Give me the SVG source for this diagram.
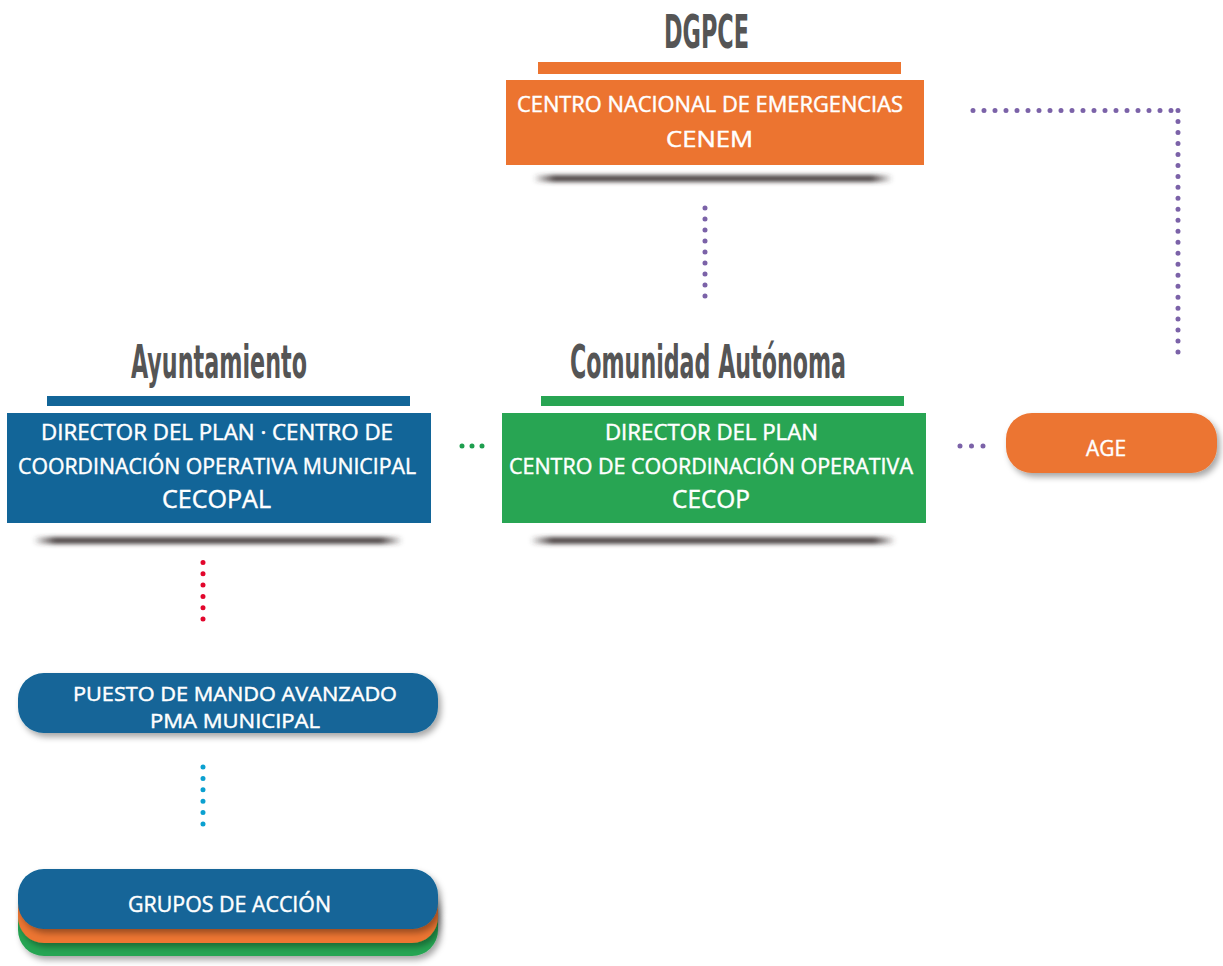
<svg xmlns="http://www.w3.org/2000/svg" width="1223" height="966" viewBox="0 0 1223 966">
<defs>
<filter id="blur" x="-10%" y="-200%" width="120%" height="500%"><feGaussianBlur stdDeviation="2"/></filter>
<filter id="drop" x="-10%" y="-30%" width="125%" height="180%"><feDropShadow dx="3" dy="4" stdDeviation="3" flood-color="#000" flood-opacity="0.35"/></filter>
<linearGradient id="sh" x1="0" x2="1" y1="0" y2="0">
<stop offset="0" stop-color="#3d3535" stop-opacity="0"/>
<stop offset="0.06" stop-color="#3d3535" stop-opacity="0.9"/>
<stop offset="0.94" stop-color="#3d3535" stop-opacity="0.9"/>
<stop offset="1" stop-color="#3d3535" stop-opacity="0"/>
</linearGradient>
</defs>
<style>
.title{font-family:"DejaVu Sans Condensed","DejaVu Sans","Liberation Sans",sans-serif;font-weight:bold;fill:#555555;}
.t{font-family:"Open Sans","Liberation Sans",sans-serif;font-weight:normal;fill:#ffffff;stroke:#ffffff;stroke-width:0.45;}
.orange{fill:#EC7430;}
.blue{fill:#126598;}
.green{fill:#28A553;}
.dot{fill:none;stroke-linecap:round;stroke-width:5;}
.shadow{fill:url(#sh);filter:url(#blur);}
</style>
<rect width="1223" height="966" fill="#ffffff"/>

<g id="connectors">
<path class="dot" d="M705 208 V296.5" stroke="#7B62A8" stroke-dasharray="0 11"/>
<path class="dot" d="M973 110.5 H1171.5" stroke="#7B62A8" stroke-dasharray="0 11"/>
<path class="dot" d="M1178 110.5 V352.5" stroke="#7B62A8" stroke-dasharray="0 10.98"/>
<path class="dot" d="M960 446 H983.5" stroke="#7B62A8" stroke-dasharray="0 11.5"/>
<path class="dot" d="M462 446 H482.5" stroke="#1E9E4E" stroke-dasharray="0 10"/>
<path class="dot" d="M203 562.5 V619.5" stroke="#E2062C" stroke-dasharray="0 11.3"/>
<path class="dot" d="M203 767 V824.5" stroke="#0BA0D0" stroke-dasharray="0 11.4"/>
</g>

<g id="dgpce">
<text class="title" x="664" y="48" font-size="47" textLength="85" lengthAdjust="spacingAndGlyphs">DGPCE</text>
<rect class="orange" x="538" y="62" width="363" height="12"/>
<rect class="shadow" x="533" y="175" width="360" height="7" rx="3.5"/>
<rect class="orange" x="506" y="80" width="418" height="85"/>
<text class="t" x="517" y="112" font-size="21" textLength="386" lengthAdjust="spacingAndGlyphs">CENTRO NACIONAL DE EMERGENCIAS</text>
<text class="t" x="666" y="147" font-size="22" textLength="87" lengthAdjust="spacingAndGlyphs">CENEM</text>
</g>

<g id="ayuntamiento">
<text class="title" x="131" y="378" font-size="47" textLength="176" lengthAdjust="spacingAndGlyphs">Ayuntamiento</text>
<rect class="blue" x="47" y="396" width="363" height="10"/>
<rect class="shadow" x="33" y="537" width="370" height="7" rx="3.5"/>
<rect class="blue" x="7" y="413" width="424" height="110"/>
<text class="t" x="41" y="440" font-size="21" textLength="352" lengthAdjust="spacingAndGlyphs">DIRECTOR DEL PLAN · CENTRO DE</text>
<text class="t" x="18" y="474" font-size="21" textLength="398" lengthAdjust="spacingAndGlyphs">COORDINACIÓN OPERATIVA MUNICIPAL</text>
<text class="t" x="162" y="508" font-size="25" textLength="109" lengthAdjust="spacingAndGlyphs">CECOPAL</text>
</g>

<g id="comunidad">
<text class="title" x="570" y="378" font-size="47" textLength="276" lengthAdjust="spacingAndGlyphs">Comunidad Autónoma</text>
<rect class="green" x="541" y="396" width="363" height="10"/>
<rect class="shadow" x="530" y="537" width="366" height="7" rx="3.5"/>
<rect class="green" x="502" y="413" width="424" height="110"/>
<text class="t" x="605" y="440" font-size="21" textLength="213" lengthAdjust="spacingAndGlyphs">DIRECTOR DEL PLAN</text>
<text class="t" x="509" y="474" font-size="21" textLength="404" lengthAdjust="spacingAndGlyphs">CENTRO DE COORDINACIÓN OPERATIVA</text>
<text class="t" x="672" y="508" font-size="25" textLength="78" lengthAdjust="spacingAndGlyphs">CECOP</text>
</g>

<g id="age">
<rect class="orange" x="1006" y="413" width="211" height="60" rx="26" filter="url(#drop)"/>
<text class="t" x="1086" y="456" font-size="22" textLength="40" lengthAdjust="spacingAndGlyphs">AGE</text>
</g>

<g id="pma">
<rect class="blue" x="18" y="673" width="420" height="60" rx="26" filter="url(#drop)"/>
<text class="t" x="73" y="701" font-size="20" textLength="324" lengthAdjust="spacingAndGlyphs">PUESTO DE MANDO AVANZADO</text>
<text class="t" x="150" y="728" font-size="20" textLength="170" lengthAdjust="spacingAndGlyphs">PMA MUNICIPAL</text>
</g>

<g id="grupos">
<rect class="green" x="18" y="896" width="420" height="60" rx="26" filter="url(#drop)"/>
<rect class="orange" x="18" y="883" width="420" height="60" rx="26" filter="url(#drop)"/>
<rect class="blue" x="18" y="869" width="420" height="60" rx="26" filter="url(#drop)"/>
<text class="t" x="128" y="912" font-size="22" textLength="203" lengthAdjust="spacingAndGlyphs">GRUPOS DE ACCIÓN</text>
</g>
</svg>
